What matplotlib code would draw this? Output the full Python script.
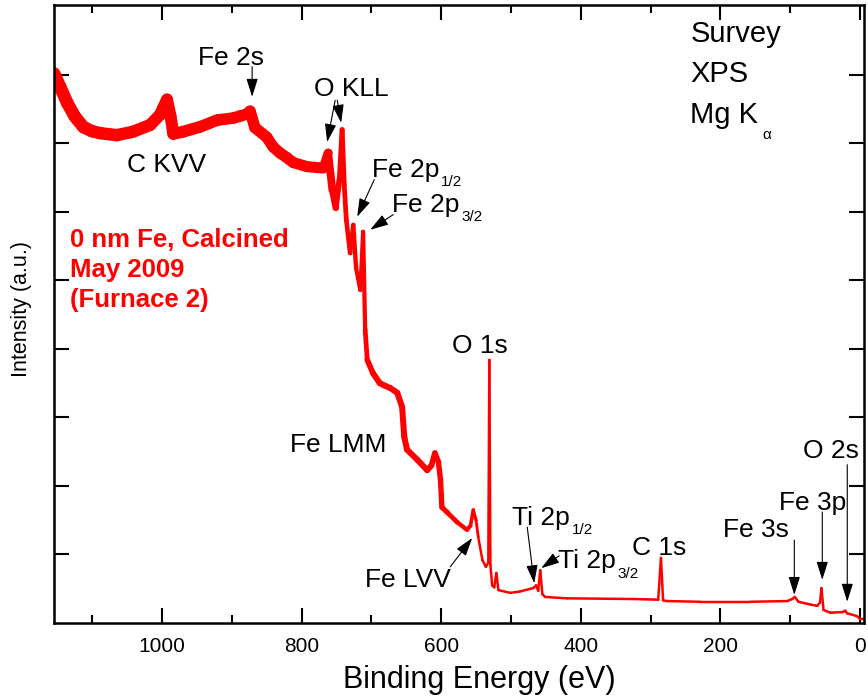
import numpy as np
import matplotlib
matplotlib.use("Agg")
import matplotlib.pyplot as plt
from matplotlib.collections import LineCollection

plt.rcParams['font.family'] = ['Liberation Sans', 'DejaVu Sans']

# survey spectrum, binding energy (eV) vs intensity (a.u.)
energy = [1155, 1146, 1136, 1125, 1113, 1101, 1089, 1065, 1042, 1017, 1003, 998,
          993, 988, 984, 970, 946, 921, 898, 888, 878, 874, 867, 850, 841, 831,
          821, 812, 792, 769, 762, 756, 751, 746, 742, 739, 736, 730.5, 726, 722,
          716, 712, 709, 706, 698, 688, 680, 673, 663, 656, 653, 649, 634, 620,
          614, 609, 604, 601, 599, 591, 577, 563, 558, 554, 550, 547, 541, 536,
          532.5, 531, 529.5, 527, 524, 521, 518, 501, 487, 468, 464, 461, 458,
          455, 451, 419, 325, 289, 285, 282, 276, 229, 157, 104, 97, 93, 88, 71,
          61, 57, 55, 52, 42, 24, 21, 18, 14, 4, 0, -6]
intensity = [8.02, 7.82, 7.59, 7.39, 7.24, 7.18, 7.15, 7.12, 7.17, 7.27, 7.42, 7.53,
             7.64, 7.40, 7.14, 7.17, 7.24, 7.34, 7.37, 7.40, 7.43, 7.47, 7.23, 7.09,
             6.95, 6.86, 6.79, 6.72, 6.66, 6.64, 6.86, 6.32, 6.06, 6.47, 7.20, 6.39,
             5.88, 5.40, 5.81, 5.18, 4.86, 5.71, 4.28, 3.84, 3.65, 3.50, 3.46, 3.43,
             3.36, 3.15, 2.72, 2.53, 2.38, 2.23, 2.30, 2.48, 2.35, 2.09, 1.69, 1.61,
             1.47, 1.36, 1.42, 1.65, 1.50, 1.26, 0.92, 0.82, 0.88, 3.84, 0.85, 0.55,
             0.52, 0.73, 0.48, 0.44, 0.46, 0.51, 0.55, 0.47, 0.77, 0.42, 0.38, 0.36,
             0.35, 0.34, 0.95, 0.33, 0.32, 0.31, 0.31, 0.32, 0.35, 0.38, 0.31, 0.27,
             0.25, 0.30, 0.51, 0.19, 0.15, 0.16, 0.18, 0.14, 0.13, 0.10, 0.06, 0.06]

# peak labels: text, subscript, x, y (baseline), horizontal alignment
peak_labels = [
    ("Fe 2s", "", 902, 8.15, "center"),
    ("O KLL", "", 729, 7.69, "center"),
    ("C KVV", "", 993, 6.58, "center"),
    ("Fe 2p", "1/2", 699, 6.51, "left"),
    ("Fe 2p", "3/2", 670, 6.00, "left"),
    ("O 1s", "", 544, 3.94, "center"),
    ("Fe LMM", "", 747, 2.50, "center"),
    ("Fe LVV", "", 647, 0.53, "center"),
    ("Ti 2p", "1/2", 498, 1.43, "left"),
    ("Ti 2p", "3/2", 432, 0.80, "left"),
    ("C 1s", "", 288, 0.99, "center"),
    ("Fe 3s", "", 149, 1.26, "center"),
    ("Fe 3p", "", 67, 1.65, "center"),
    ("O 2s", "", 42, 2.41, "center"),
]

# arrows: (tail x, tail y) -> (head x, head y)
arrows = [
    ((871, 8.12), (871, 7.68)),
    ((752, 7.63), (763.5, 7.02)),
    ((749, 7.63), (743.4, 7.30)),
    ((696, 6.47), (720.4, 5.93)),
    ((668.8, 5.96), (701.8, 5.74)),
    ((587, 0.82), (555.6, 1.24)),
    ((476.7, 1.40), (466.7, 0.58)),
    ((431, 0.98), (456.6, 0.80)),
    ((93.9, 1.21), (93.9, 0.41)),
    ((53.8, 1.62), (53.8, 0.63)),
    ((18, 2.31), (18, 0.31)),
]

sample_lines = ["0 nm Fe, Calcined", "May 2009", "(Furnace 2)"]
method_lines = [("Survey", ""), ("XPS", ""), ("Mg K", "\u03b1")]


def label_with_sub(ax, x, y, main, sub, size, ha, sub_size, sub_dx, sub_dy):
    t = ax.text(x, y, main, fontsize=size, ha=ha, va='baseline')
    if sub:
        # subscript hangs from the lower right corner of the main text
        ax.annotate(sub, xy=(1, 0), xycoords=t, xytext=(sub_dx, sub_dy),
                    textcoords='offset points', fontsize=sub_size,
                    ha='left', va='baseline')
    return t


fig = plt.figure(figsize=(8.68, 7.0), dpi=100)
ax = fig.add_axes([54 / 868, 77 / 700, 810 / 868, 618 / 700])

# noisy spectrum drawn as a band whose thickness follows the noise level
e = np.array(energy)
y = np.array(intensity)
pts = np.column_stack([e, y]).reshape(-1, 1, 2)
segs = np.concatenate([pts[:-1], pts[1:]], axis=1)
mid = 0.5 * (e[:-1] + e[1:])
noise_e = [-10, 545, 560, 620, 700, 712, 745, 775, 1200]
noise_px = [2.5, 2.5, 4, 6, 6, 4, 5, 11, 13]
widths = np.interp(mid, noise_e, noise_px) * 0.72
lc = LineCollection(segs, colors='#ff0000', linewidths=widths, capstyle='round',
                    joinstyle='round')
ax.add_collection(lc)

ax.set_xlim(1155, -6)
ax.set_ylim(0, 9.02)
ax.set_xticks(range(0, 1001, 200))
ax.set_xticks(range(100, 1101, 200), minor=True)
ax.set_yticks(range(1, 9))
ax.set_yticklabels([])
ax.tick_params(which='both', direction='in', top=True, right=True, width=1.5,
               labelsize=15, pad=10)
ax.tick_params(which='major', length=11)
ax.tick_params(which='minor', length=6)
for s in ax.spines.values():
    s.set_linewidth(1.8)

ax.set_xlabel("Binding Energy (eV)", fontsize=22)
ax.xaxis.set_label_coords((479 - 54) / 810, -0.068)
ax.set_ylabel("Intensity (a.u.)", fontsize=15.5)
ax.yaxis.set_label_coords(-0.027, 0.508)

for txt, sub, x, yy, ha in peak_labels:
    label_with_sub(ax, x, yy, txt, sub, 19, ha, 11, 1, -3.2)

for (x0, y0), (x1, y1) in arrows:
    ax.annotate('', xy=(x1, y1), xytext=(x0, y0),
                arrowprops=dict(arrowstyle='-|>,head_length=0.7,head_width=0.22',
                                color='black', lw=0.8, mutation_scale=16,
                                shrinkA=0, shrinkB=0))

for i, line in enumerate(sample_lines):
    ax.text(1132, 5.49 - 0.44 * i, line, fontsize=18.5, fontweight='bold',
            color='#ff0000', ha='left', va='baseline')

for i, (line, sub) in enumerate(method_lines):
    label_with_sub(ax, 243, 8.48 - 0.59 * i, line, sub, 21, 'left', 11, 3, -7)

fig.savefig("out.png", dpi=100)
